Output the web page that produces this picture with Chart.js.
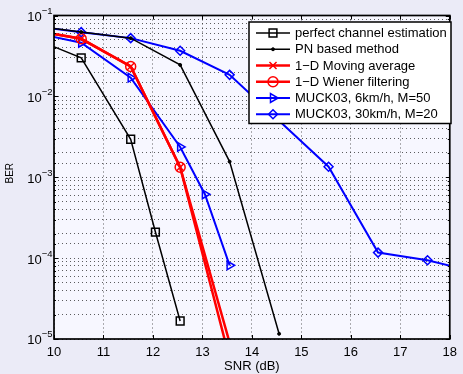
<!DOCTYPE html>
<html>
<head>
<meta charset="utf-8">
<script src="https://cdn.jsdelivr.net/npm/chart.js@4.4.0/dist/chart.umd.min.js"></script>
<style>
    html, body { margin: 0; padding: 0; background: #ebebf7; }
    canvas { display: block; }
</style>
</head>
<body>
<canvas id="chart1" width="463" height="374"></canvas>
<script>
"use strict";

// データ (SNR [dB] / BER)
const snrPerfect = [9.55, 10.55, 11.55, 12.05, 12.55];
const berPerfect = [0.053, 0.030, 0.00295, 2.1e-4, 1.67e-5];

const snrPN = [9.55, 10.55, 11.55, 12.55, 13.55, 14.55];
const berPN = [0.075, 0.0625, 0.0525, 0.0245, 1.56e-3, 1.16e-5];

const snrMoving = [9.55, 10.55, 11.55, 12.55, 13.55];
const berMoving = [0.0658, 0.0515, 0.0234, 1.33e-3, 9.0e-6];

const snrWiener = [9.55, 10.55, 11.55, 12.55, 13.55];
const berWiener = [0.0658, 0.0515, 0.0234, 1.33e-3, 5.7e-6];

const snrMuck6 = [9.55, 10.55, 11.55, 12.55, 13.05, 13.55];
const berMuck6 = [0.062, 0.046, 0.017, 2.37e-3, 6.16e-4, 8.15e-5];

const snrMuck30 = [9.55, 10.55, 11.55, 12.55, 13.55, 15.55, 16.55, 17.55, 18.55];
const berMuck30 = [0.074, 0.0622, 0.0525, 0.0366, 0.01845, 1.35e-3, 1.17e-4, 9.4e-5, 6.7e-5];

const seriesLabels = [
    "perfect channel estimation",
    "PN based method",
    "1\u2212D Moving average",
    "1\u2212D Wiener filtering",
    "MUCK03, 6km/h, M=50",
    "MUCK03, 30km/h, M=20",
];

// 目盛り
const xTickValues = [10, 11, 12, 13, 14, 15, 16, 17, 18];
const yTickValues = [1e-1, 1e-2, 1e-3, 1e-4, 1e-5];
const yTickExponents = ["\u22121", "\u22122", "\u22123", "\u22124", "\u22125"];
const yAxisTitle = "BER";

const fontFamily = '"Liberation Sans", Arial, Helvetica, sans-serif';
Chart.defaults.font.family = fontFamily;
Chart.defaults.font.size = 13;
Chart.defaults.color = "#000";

const toPoints = (xs, ys) => xs.map((x, i) => ({ x: x, y: ys[i] }));

const makeDataset = (label, xs, ys, color, width, style, radius, rotation, fill) => {
    return {
        label: label,
        data: toPoints(xs, ys),
        borderColor: color,
        borderWidth: width,
        pointStyle: style,
        pointRadius: radius,
        pointRotation: rotation,
        pointBorderColor: color,
        pointBorderWidth: style === "circle" && radius < 2 ? 1 : 1.5,
        pointBackgroundColor: fill,
        tension: 0,
        fill: false,
    };
};

const chartData = {
    datasets: [
        makeDataset(seriesLabels[0], snrPerfect, berPerfect, "#000000", 1.5, "rect", 5.5, 0, "rgba(0,0,0,0)"),
        makeDataset(seriesLabels[1], snrPN, berPN, "#000000", 1.5, "circle", 1.5, 0, "#000000"),
        makeDataset(seriesLabels[2], snrMoving, berMoving, "#ff0000", 2.5, "crossRot", 5, 0, "rgba(0,0,0,0)"),
        makeDataset(seriesLabels[3], snrWiener, berWiener, "#ff0000", 2.5, "circle", 5, 0, "rgba(0,0,0,0)"),
        makeDataset(seriesLabels[4], snrMuck6, berMuck6, "#0000ff", 2, "triangle", 5, 90, "rgba(0,0,0,0)"),
        makeDataset(seriesLabels[5], snrMuck30, berMuck30, "#0000ff", 2, "rectRot", 4.5, 0, "rgba(0,0,0,0)"),
    ],
};

// 背景
const backgroundPlugin = {
    id: "background",
    beforeDraw: (chart) => {
        const ctx = chart.ctx;
        const a = chart.chartArea;
        ctx.save();
        ctx.fillStyle = "#ebebf7";
        ctx.fillRect(0, 0, chart.width, chart.height);
        ctx.fillStyle = "#f7f7ff";
        ctx.fillRect(a.left, a.top, a.right - a.left, a.bottom - a.top);
        ctx.restore();
    },
};

// 枠・内向き目盛り・y軸ラベル・凡例
const framePlugin = {
    id: "frame",
    afterDraw: (chart) => {
        const ctx = chart.ctx;
        const a = chart.chartArea;
        const xScale = chart.scales.x;
        const yScale = chart.scales.y;
        ctx.save();

        // 内向きの目盛り
        ctx.strokeStyle = "#000";
        ctx.lineWidth = 1;
        ctx.beginPath();
        xTickValues.forEach((v) => {
            const px = Math.round(xScale.getPixelForValue(v)) + 0.5;
            ctx.moveTo(px, a.bottom);
            ctx.lineTo(px, a.bottom - 4);
            ctx.moveTo(px, a.top);
            ctx.lineTo(px, a.top + 4);
        });
        yScale.ticks.forEach((t) => {
            const py = Math.round(yScale.getPixelForValue(t.value)) + 0.5;
            const e = Math.log10(t.value);
            const len = Math.abs(e - Math.round(e)) < 1e-6 ? 4 : 2;
            ctx.moveTo(a.left, py);
            ctx.lineTo(a.left + len, py);
            ctx.moveTo(a.right, py);
            ctx.lineTo(a.right - len, py);
        });
        ctx.stroke();

        // 枠
        ctx.lineWidth = 1.7;
        ctx.strokeRect(a.left, a.top, a.right - a.left, a.bottom - a.top);

        // y軸の目盛りラベル (10^n)
        ctx.fillStyle = "#000";
        ctx.textAlign = "right";
        ctx.textBaseline = "alphabetic";
        yTickValues.forEach((v, i) => {
            const py = yScale.getPixelForValue(v);
            ctx.font = "9.5px " + fontFamily;
            const supW = ctx.measureText(yTickExponents[i]).width;
            ctx.fillText(yTickExponents[i], a.left - 1.5, py - 1.6);
            ctx.font = "13px " + fontFamily;
            ctx.fillText("10", a.left - 1.5 - supW, py + 5.4);
        });

        // y軸タイトル
        ctx.save();
        ctx.translate(10.5, (a.top + a.bottom) / 2 - 4);
        ctx.rotate(-Math.PI / 2);
        ctx.textAlign = "center";
        ctx.textBaseline = "middle";
        ctx.font = "10px " + fontFamily;
        ctx.fillText(yAxisTitle, 0, 0);
        ctx.restore();

        // 凡例
        const box = { left: 249, top: 22, right: 451, bottom: 123.5 };
        ctx.fillStyle = "#ffffff";
        ctx.fillRect(box.left, box.top, box.right - box.left, box.bottom - box.top);
        ctx.lineWidth = 1.5;
        ctx.strokeStyle = "#000";
        ctx.strokeRect(box.left, box.top, box.right - box.left, box.bottom - box.top);

        chart.data.datasets.forEach((ds, i) => {
            const y = 33 + i * 16.25;
            ctx.strokeStyle = ds.borderColor;
            ctx.lineWidth = ds.borderWidth;
            ctx.beginPath();
            ctx.moveTo(256, y);
            ctx.lineTo(290, y);
            ctx.stroke();
            ctx.fillStyle = ds.pointBackgroundColor;
            ctx.lineWidth = ds.pointBorderWidth;
            Chart.helpers.drawPoint(ctx, {
                pointStyle: ds.pointStyle,
                radius: ds.pointRadius,
                rotation: ds.pointRotation,
                borderWidth: ds.pointBorderWidth,
            }, 273, y);
            ctx.fillStyle = "#000";
            ctx.textAlign = "left";
            ctx.textBaseline = "middle";
            ctx.font = "13px " + fontFamily;
            ctx.fillText(ds.label, 295, y + 0.5);
        });

        ctx.restore();
    },
};

const gridColor = "rgba(40,40,40,0.75)";

const chartOptions = {
    responsive: false,
    animation: false,
    events: [],
    layout: { padding: { top: 15.5, right: 8, left: 0, bottom: 0 } },
    plugins: {
        legend: { display: false },
        tooltip: { enabled: false },
    },
    scales: {
        x: {
            type: "linear",
            min: 10,
            max: 18,
            afterBuildTicks: (scale) => {
                scale.ticks = xTickValues.map((v) => ({ value: v }));
            },
            ticks: { color: "#000", font: { size: 13 }, padding: 6, maxRotation: 0, autoSkip: false },
            grid: { color: gridColor, lineWidth: 1, drawTicks: false },
            border: { display: false, dash: [1, 3] },
            title: {
                display: true,
                text: "SNR (dB)",
                color: "#000",
                font: { size: 13 },
                padding: { top: 0, bottom: 0 },
            },
            afterFit: (scale) => {
                scale.height = 35;
            },
        },
        y: {
            type: "logarithmic",
            min: 1e-5,
            max: 1e-1,
            ticks: { display: false },
            grid: { color: gridColor, lineWidth: 1, drawTicks: false },
            border: { display: false, dash: [1, 3] },
            afterFit: (scale) => {
                scale.width = 54;
            },
        },
    },
};

const drawChart = (data, options, canvasId) => {
    const context = document.getElementById(canvasId).getContext("2d");
    return new Chart(context, {
        type: "line",
        data: data,
        options: options,
        plugins: [backgroundPlugin, framePlugin],
    });
};

drawChart(chartData, chartOptions, "chart1");
</script>
</body>
</html>
